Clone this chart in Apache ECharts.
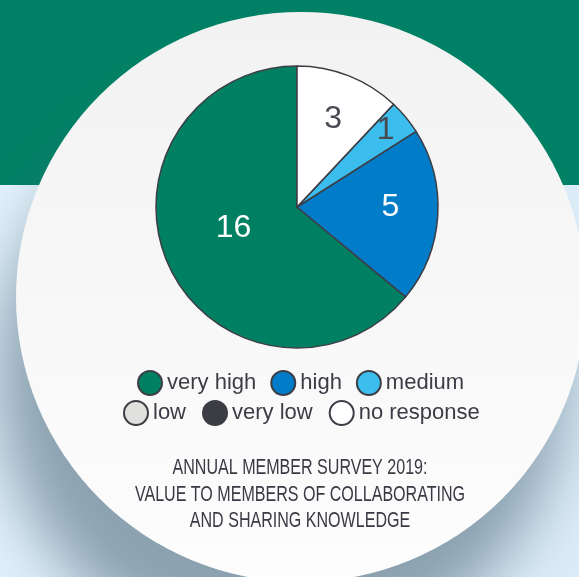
<!DOCTYPE html>
<html>
<head>
<meta charset="utf-8">
<script src="https://cdn.jsdelivr.net/npm/echarts@6/dist/echarts.min.js"></script>
<style>
  html, body { margin: 0; padding: 0; background: #dff0fb; }
  #chart { width: 579px; height: 577px; }
</style>
</head>
<body>
<div id="chart"></div>
<script>
// survey answers, in legend order
var categories = ["very high", "high", "medium", "low", "very low", "no response"];
var counts = [16, 5, 1, 0, 0, 3];
var sliceColors = ["#008063", "#007cc8", "#3bbdee", "#e0e0de", "#3c3c44", "#ffffff"];
var labelColors = ["#ffffff", "#ffffff", "#4a4a52", "#4a4a52", "#4a4a52", "#4a4a52"];
var titleLines = [
  "ANNUAL MEMBER SURVEY 2019:",
  "VALUE TO MEMBERS OF COLLABORATING",
  "AND SHARING KNOWLEDGE"
];

// nudges for the number labels (pixels)
var labelNudge = [[3, -10], [20, -4], [32, -30], [0, 0], [0, 0], [9, -19]];

function buildData() {
  var data = [];
  for (var i = 0; i < categories.length; i++) {
    data.push({
      name: categories[i],
      value: counts[i],
      itemStyle: { color: sliceColors[i] },
      label: { show: counts[i] > 0, color: labelColors[i] }
    });
  }
  return data;
}

function legendRow(names, left, top, gap) {
  return {
    data: names,
    top: top,
    left: left,
    padding: 0,
    icon: "circle",
    itemWidth: 24,
    itemHeight: 24,
    itemGap: gap,
    selectedMode: false,
    textStyle: {
      fontFamily: "'Liberation Sans', Arial, sans-serif",
      fontSize: 22,
      color: "#3c3c46"
    }
  };
}

var chartDom = document.getElementById("chart");
var myChart = echarts.init(chartDom, null, { renderer: "canvas" });
var option;

option = {
  animation: false,
  graphic: [
    {
      type: "rect",
      z: -10,
      silent: true,
      shape: { x: 0, y: 185, width: 579, height: 392 },
      style: {
        fill: new echarts.graphic.LinearGradient(0, 0, 1, 1, [
          { offset: 0, color: "#e2f2fc" },
          { offset: 1, color: "#dbecf7" }
        ])
      }
    },
    {
      type: "rect",
      z: -9,
      silent: true,
      shape: { x: 0, y: 0, width: 579, height: 185 },
      style: { fill: "#008064" }
    },
    {
      type: "circle",
      z: -8,
      silent: true,
      shape: { cx: 301, cy: 297, r: 285 },
      style: {
        fill: new echarts.graphic.LinearGradient(0, 0, 0, 1, [
          { offset: 0, color: "#f2f2f2" },
          { offset: 1, color: "#fdfdfd" }
        ]),
        shadowBlur: 60,
        shadowColor: "rgba(85, 110, 128, 0.6)",
        shadowOffsetX: -20,
        shadowOffsetY: 80
      }
    },
    {
      type: "text",
      z: 5,
      silent: true,
      x: 300,
      y: 455,
      scaleX: 0.73,
      style: {
        text: titleLines.join("\n"),
        align: "center",
        verticalAlign: "top",
        fontFamily: "'Liberation Sans', Arial, sans-serif",
        fontSize: 22,
        lineHeight: 26.5,
        fill: "#3a3a44"
      }
    }
  ],
  legend: [
    legendRow(categories.slice(0, 3), 137, 370, 14),
    legendRow(categories.slice(3), 123, 400, 16)
  ],
  series: [
    {
      type: "pie",
      center: [297, 207],
      radius: 141,
      startAngle: 90,
      clockwise: false,
      minAngle: 0,
      avoidLabelOverlap: false,
      itemStyle: {
        borderColor: "#3d3d45",
        borderWidth: 1.5
      },
      label: {
        position: "inside",
        fontFamily: "'Liberation Sans', Arial, sans-serif",
        fontSize: 32,
        formatter: "{c}"
      },
      labelLine: { show: false },
      labelLayout: function (params) {
        var n = labelNudge[params.dataIndex];
        return { dx: n[0], dy: n[1] };
      },
      emphasis: { disabled: true },
      data: buildData()
    }
  ]
};

option && myChart.setOption(option);
window.addEventListener("resize", function () {
  myChart.resize();
});
</script>
</body>
</html>
